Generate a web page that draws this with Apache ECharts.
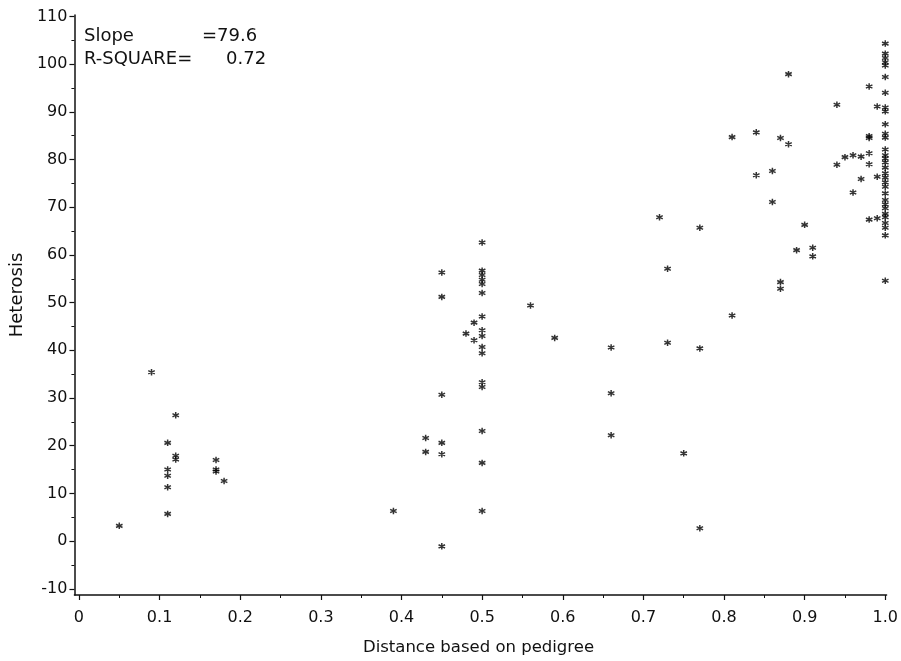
<!DOCTYPE html>
<html>
<head>
<meta charset="utf-8">
<script src="https://cdn.jsdelivr.net/npm/echarts@6/dist/echarts.min.js"></script>
<style>
  html, body { margin: 0; padding: 0; background: #fff; }
  #chart { width: 901px; height: 661px; }
</style>
</head>
<body>
<div id="chart"></div>
<script>
// pedigree distance / heterosis pairs
const distance = [
  0.05, 0.09,
  0.11, 0.11, 0.11, 0.11, 0.11,
  0.12, 0.12, 0.12,
  0.17, 0.17, 0.17, 0.18,
  0.39, 0.43, 0.43,
  0.45, 0.45, 0.45, 0.45, 0.45, 0.45,
  0.48, 0.49, 0.49,
  0.50, 0.50, 0.50, 0.50, 0.50, 0.50, 0.50, 0.50,
  0.50, 0.50, 0.50, 0.50, 0.50, 0.50, 0.50, 0.50,
  0.56, 0.59,
  0.66, 0.66, 0.66,
  0.72, 0.73, 0.73, 0.75,
  0.77, 0.77, 0.77,
  0.81, 0.81, 0.84, 0.84, 0.86, 0.86,
  0.87, 0.87, 0.87, 0.88, 0.88, 0.89, 0.90, 0.91, 0.91,
  0.94, 0.94, 0.95, 0.96, 0.96, 0.97, 0.97,
  0.98, 0.98, 0.98, 0.98, 0.98, 0.98,
  0.99, 0.99, 0.99,
  1.0, 1.0, 1.0, 1.0, 1.0, 1.0, 1.0, 1.0, 1.0, 1.0, 1.0,
  1.0, 1.0, 1.0, 1.0, 1.0, 1.0, 1.0, 1.0, 1.0, 1.0, 1.0,
  1.0, 1.0, 1.0, 1.0, 1.0, 1.0, 1.0, 1.0, 1.0
];
const heterosis = [
  3.2, 35.4,
  20.6, 15.0, 13.7, 11.3, 5.7,
  26.4, 17.9, 17.1,
  17.0, 15.0, 14.6, 12.6,
  6.3, 21.6, 18.7,
  56.3, 51.2, 30.7, 20.6, 18.2, -1.1,
  43.5, 45.8, 42.1,
  62.6, 56.7, 55.8, 54.8, 53.9, 52.0, 47.1, 44.2,
  43.0, 40.7, 39.4, 33.3, 32.3, 23.1, 16.4, 6.3,
  49.4, 42.6,
  40.6, 31.0, 22.2,
  67.9, 57.1, 41.6, 18.4,
  65.7, 40.4, 2.7,
  84.7, 47.3, 85.7, 76.7, 77.6, 71.1,
  84.5, 54.3, 52.9, 97.9, 83.2, 61.0, 66.3, 61.5, 59.7,
  91.5, 78.9, 80.5, 80.9, 73.1, 80.6, 75.9,
  95.3, 84.5, 84.9, 81.3, 79.0, 67.4,
  91.1, 76.4, 67.7,
  104.3, 102.2, 101.3, 100.4, 99.7, 97.3, 94.0, 90.9, 90.1, 87.4, 85.4,
  84.6, 82.1, 80.9, 80.2, 79.4, 78.3, 77.1, 76.2, 75.2, 74.3, 72.9,
  71.5, 70.6, 69.8, 68.6, 67.9, 66.7, 65.7, 64.1, 54.6
];

const xMajorTicks = [0, 0.1, 0.2, 0.3, 0.4, 0.5, 0.6, 0.7, 0.8, 0.9, 1.0];
const xMinorTicks = [0.05, 0.15, 0.25, 0.35, 0.45, 0.55, 0.65, 0.75, 0.85, 0.95];
const yMajorTicks = [-10, 0, 10, 20, 30, 40, 50, 60, 70, 80, 90, 100, 110];
const yMinorTicks = [-5, 5, 15, 25, 35, 45, 55, 65, 75, 85, 95, 105];

const slopeValue = "=79.6";
const rSquareValue = "0.72";

const FONT = "DejaVu Sans";
const INK = "#111";
const asterisk = "path://M5,0 L5,10 M0.67,2.5 L9.33,7.5 M0.67,7.5 L9.33,2.5";

const points = distance.map((d, i) => [d, heterosis[i]]);

const xRange = { min: -0.0056, max: 1.0016 };
const yRange = { min: -11.3, max: 110.3 };

const option = {
  backgroundColor: "#fff",
  animation: false,
  grid: { left: 72, right: 8, top: 15, bottom: 60 },
  xAxis: [
    {
      type: "value",
      position: "bottom",
      min: xRange.min,
      max: xRange.max,
      name: "Distance based on pedigree",
      nameLocation: "middle",
      nameGap: 44,
      nameTextStyle: { fontFamily: FONT, fontSize: 16.5, color: INK, padding: [0, 4, 0, 0] },
      axisLine: { show: true, onZero: false, lineStyle: { color: INK, width: 1.5 } },
      axisTick: {
        show: true,
        customValues: xMajorTicks,
        length: 5,
        lineStyle: { color: INK, width: 1.2 },
      },
      axisLabel: {
        customValues: xMajorTicks,
        margin: 15,
        fontFamily: FONT,
        fontSize: 16,
        color: INK,
        formatter: (v) => (v === 0 ? "0" : v.toFixed(1)),
      },
      splitLine: { show: false },
    },
    {
      type: "value",
      position: "bottom",
      min: xRange.min,
      max: xRange.max,
      axisLine: { show: false, onZero: false },
      axisTick: {
        show: true,
        customValues: xMinorTicks,
        length: 3,
        lineStyle: { color: INK, width: 1 },
      },
      axisLabel: { show: false },
      splitLine: { show: false },
    },
  ],
  yAxis: [
    {
      type: "value",
      position: "left",
      min: yRange.min,
      max: yRange.max,
      name: "Heterosis",
      nameLocation: "middle",
      nameGap: 46,
      nameTextStyle: { fontFamily: FONT, fontSize: 18, color: INK, padding: [0, 0, 0, 20] },
      axisLine: { show: true, onZero: false, lineStyle: { color: INK, width: 1.5 } },
      axisTick: {
        show: true,
        customValues: yMajorTicks,
        length: 5,
        lineStyle: { color: INK, width: 1.2 },
      },
      axisLabel: {
        customValues: yMajorTicks,
        margin: 7,
        fontFamily: FONT,
        fontSize: 16,
        color: INK,
      },
      splitLine: { show: false },
    },
    {
      type: "value",
      position: "left",
      min: yRange.min,
      max: yRange.max,
      axisLine: { show: false, onZero: false },
      axisTick: {
        show: true,
        customValues: yMinorTicks,
        length: 3,
        lineStyle: { color: INK, width: 1 },
      },
      axisLabel: { show: false },
      splitLine: { show: false },
    },
  ],
  graphic: [
    { type: "text", left: 84, top: 27, style: { text: "Slope", font: "18px " + FONT, fill: INK } },
    { type: "text", left: 202, top: 27, style: { text: slopeValue, font: "18px " + FONT, fill: INK } },
    { type: "text", left: 84, top: 50, style: { text: "R-SQUARE=", font: "18px " + FONT, fill: INK } },
    { type: "text", left: 226, top: 50, style: { text: rSquareValue, font: "18px " + FONT, fill: INK } },
  ],
  series: [
    {
      type: "scatter",
      xAxisIndex: 0,
      yAxisIndex: 0,
      data: points,
      symbol: asterisk,
      symbolSize: 6.5,
      itemStyle: { color: "transparent", borderColor: "#000", borderWidth: 1.5 },
      emphasis: { disabled: true },
    },
  ],
};

const chart = echarts.init(document.getElementById("chart"), null, { renderer: "canvas" });
chart.setOption(option);
</script>
</body>
</html>
